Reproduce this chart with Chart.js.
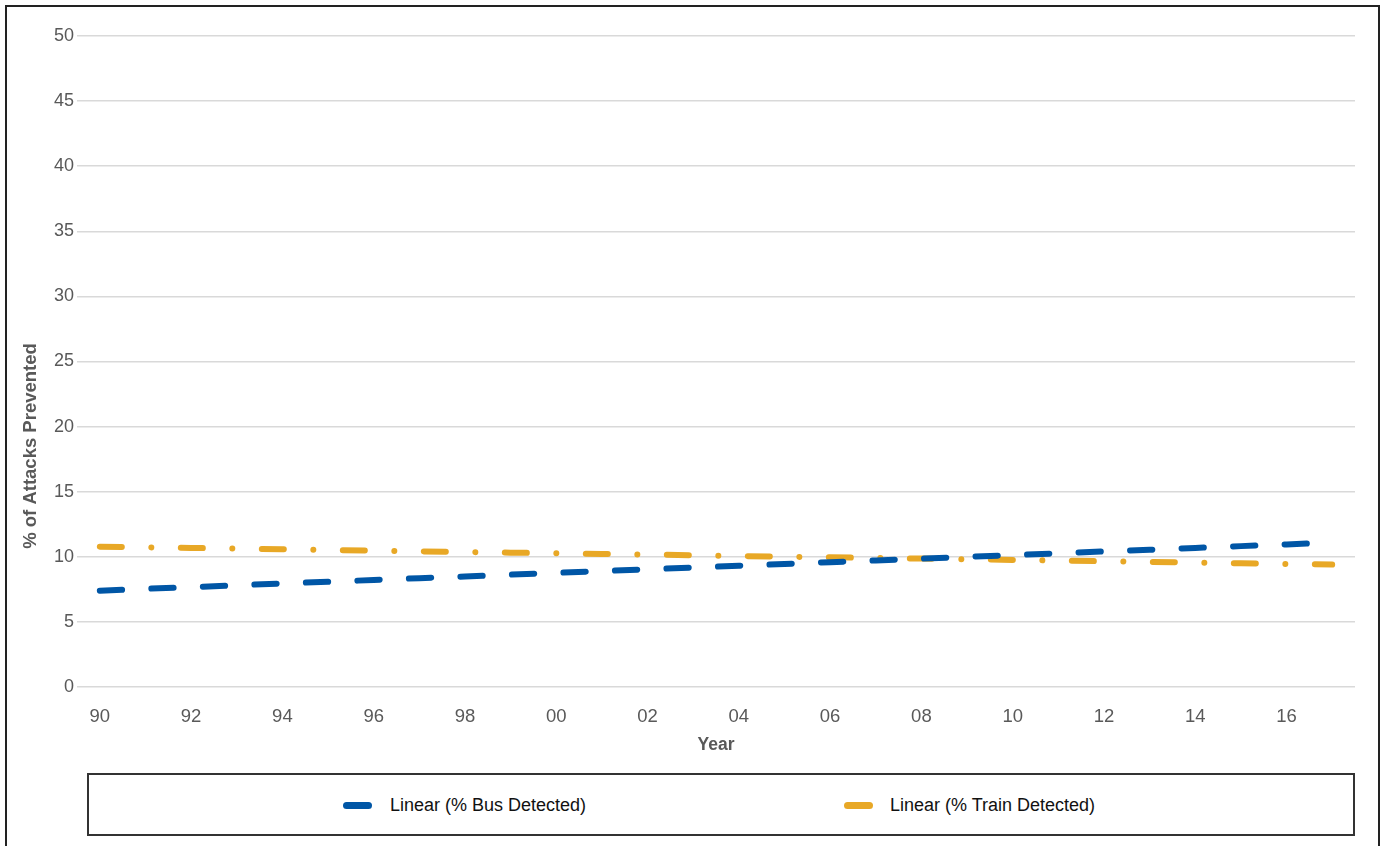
<!DOCTYPE html>
<html>
<head>
<meta charset="utf-8">
<script src="https://cdn.jsdelivr.net/npm/chart.js@4.4.1/dist/chart.umd.min.js"></script>
<style>
html,body{margin:0;padding:0;background:#fff;width:1380px;height:846px;overflow:hidden;}
#frame{position:absolute;left:5px;top:5px;width:1375px;height:900px;border:2.5px solid #222;box-sizing:border-box;}
#wrap{position:absolute;left:0;top:0;width:1380px;height:846px;}
#legend{position:absolute;left:87px;top:773px;width:1268px;height:63px;border:2px solid #333;box-sizing:border-box;font-family:"Liberation Sans",Arial,sans-serif;font-size:18px;color:#111;background:#fff;}
.sw{position:absolute;width:29px;height:7px;border-radius:3.5px;}
.lt{position:absolute;line-height:20px;white-space:nowrap;}
</style>
</head>
<body>
<div id="frame"></div>
<div id="wrap"><canvas id="c"></canvas></div>
<div id="legend"></div>
<script>
// ---- data ----
const categories = ['90','91','92','93','94','95','96','97','98','99','00','01','02','03','04','05','06','07','08','09','10','11','12','13','14','15','16','17'];
const xTickLabels = ['90','92','94','96','98','00','02','04','06','08','10','12','14','16'];
const yTickValues = [0,5,10,15,20,25,30,35,40,45,50];
const busDetected = [7.40,7.54,7.67,7.81,7.95,8.08,8.22,8.36,8.49,8.63,8.77,8.90,9.04,9.18,9.31,9.45,9.59,9.72,9.86,10.00,10.13,10.27,10.41,10.54,10.68,10.82,10.95,11.09];
const trainDetected = [10.78,10.73,10.68,10.63,10.58,10.52,10.47,10.42,10.37,10.32,10.27,10.22,10.17,10.12,10.06,10.01,9.96,9.91,9.86,9.81,9.76,9.71,9.66,9.61,9.55,9.50,9.45,9.40];
const seriesNames = ['Linear (% Bus Detected)','Linear (% Train Detected)'];
const seriesColors = ['#0056a6','#e8a826'];
const xTitle = 'Year';
const yTitle = '% of Attacks Prevented';

const FONT = '"Liberation Sans", Arial, Helvetica, sans-serif';
const GRAY = '#595959';

const yTitlePlugin = {
  id: 'yTitle',
  afterDraw(chart) {
    const ctx = chart.ctx;
    ctx.save();
    ctx.translate(31, 446);
    ctx.rotate(-Math.PI / 2);
    ctx.font = 'bold 18.5px ' + FONT;
    ctx.fillStyle = GRAY;
    ctx.textAlign = 'center';
    ctx.textBaseline = 'middle';
    ctx.fillText(yTitle, 0, 0);
    ctx.restore();
  }
};

new Chart(document.getElementById('c'), {
  type: 'line',
  data: {
    labels: categories,
    datasets: [
      {
        label: seriesNames[0],
        data: busDetected,
        borderColor: seriesColors[0],
        backgroundColor: seriesColors[0],
        borderWidth: 6,
        borderCapStyle: 'round',
        borderDash: [22.3, 29.25],
        pointRadius: 0,
        pointHoverRadius: 0,
        tension: 0,
        fill: false
      },
      {
        label: seriesNames[1],
        data: trainDetected,
        borderColor: seriesColors[1],
        backgroundColor: seriesColors[1],
        borderWidth: 6,
        borderCapStyle: 'round',
        borderDash: [22, 29.5, 0.01, 29.5],
        pointRadius: 0,
        pointHoverRadius: 0,
        tension: 0,
        fill: false
      }
    ]
  },
  options: {
    responsive: true,
    maintainAspectRatio: false,
    animation: false,
    layout: { padding: { left: 0, right: 25, top: 36, bottom: 76 } },
    plugins: {
      legend: { display: false },
      tooltip: { enabled: false }
    },
    scales: {
      x: {
        type: 'category',
        offset: true,
        grid: { display: false },
        border: { display: false },
        ticks: {
          autoSkip: false,
          maxRotation: 0,
          minRotation: 0,
          padding: 11.2,
          color: GRAY,
          font: { family: FONT, size: 18.5 },
          callback: function (value) {
            const lbl = this.getLabelForValue(value);
            return xTickLabels.includes(lbl) ? lbl : '';
          }
        },
        title: {
          display: true,
          text: xTitle,
          color: GRAY,
          font: { family: FONT, size: 17.5, weight: 'bold' },
          padding: { top: 0, bottom: 14.5 }
        },
        afterFit(scale) { scale.height = 83; }
      },
      y: {
        min: 0,
        max: 50,
        grid: { color: '#d9d9d9', lineWidth: 1.5, drawTicks: false },
        border: { display: false },
        afterBuildTicks(scale) { scale.ticks = yTickValues.map(v => ({ value: v })); },
        ticks: {
          padding: 3,
          color: GRAY,
          font: { family: FONT, size: 18 }
        },
        afterFit(scale) { scale.width = 77; }
      }
    }
  },
  plugins: [yTitlePlugin]
});

// ---- HTML legend (boxed) ----
const legend = document.getElementById('legend');
const swLeft = [254, 755];
const txLeft = [301, 801];
seriesNames.forEach((name, i) => {
  const sw = document.createElement('div');
  sw.className = 'sw';
  sw.style.left = swLeft[i] + 'px';
  sw.style.top = '26.5px';
  sw.style.background = seriesColors[i];
  legend.appendChild(sw);
  const t = document.createElement('div');
  t.className = 'lt';
  t.style.left = txLeft[i] + 'px';
  t.style.top = '20px';
  t.textContent = name;
  legend.appendChild(t);
});
</script>
</body>
</html>
